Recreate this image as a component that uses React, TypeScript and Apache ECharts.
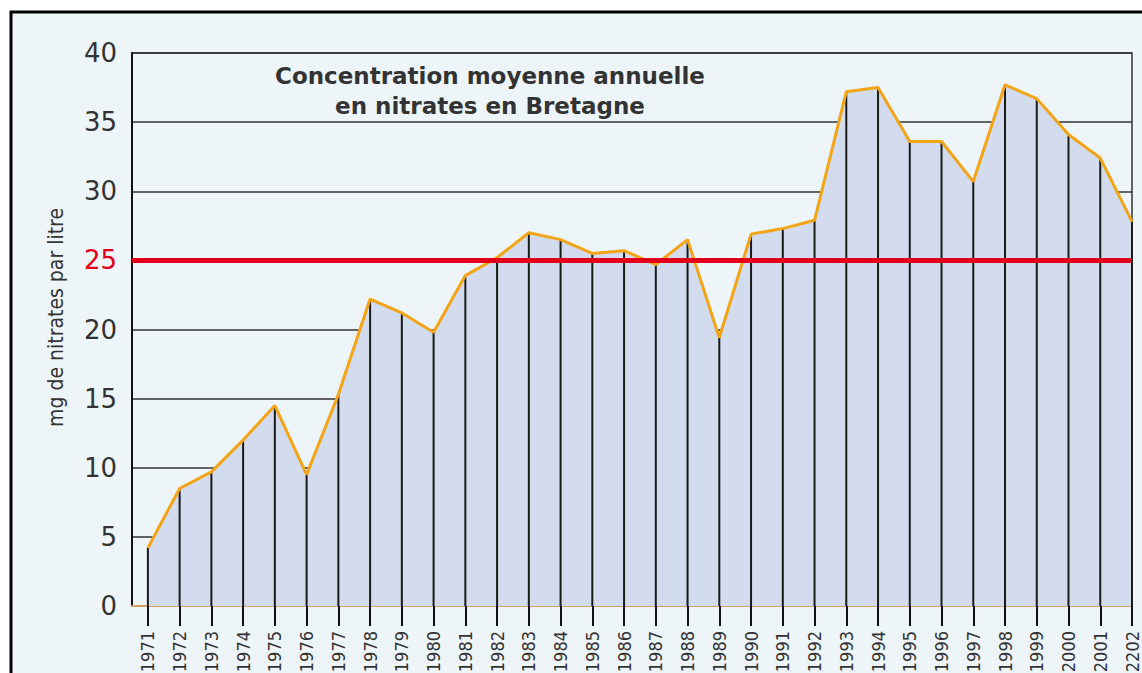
import React, { useEffect, useRef } from "react";
import * as echarts from "echarts";

const years = [1971, 1972, 1973, 1974, 1975, 1976, 1977, 1978, 1979, 1980, 1981, 1982, 1983, 1984, 1985, 1986, 1987, 1988, 1989, 1990, 1991, 1992, 1993, 1994, 1995, 1996, 1997, 1998, 1999, 2000, 2001, 2002];
const yearLabels = ["1971", "1972", "1973", "1974", "1975", "1976", "1977", "1978", "1979", "1980", "1981", "1982", "1983", "1984", "1985", "1986", "1987", "1988", "1989", "1990", "1991", "1992", "1993", "1994", "1995", "1996", "1997", "1998", "1999", "2000", "2001", "2202"];
const nitrates = [4.2, 8.5, 9.7, 12.0, 14.5, 9.5, 15.3, 22.2, 21.2, 19.8, 23.9, 25.2, 27.0, 26.5, 25.5, 25.7, 24.7, 26.5, 19.4, 26.9, 27.3, 27.9, 37.2, 37.5, 33.6, 33.6, 30.7, 37.7, 36.7, 34.1, 32.4, 27.8];
const threshold = 25;
const yTicks = { min: 0, max: 40, interval: 5 };
const titleText = "Concentration moyenne annuelle\nen nitrates en Bretagne";
const yName = "mg de nitrates par litre";

export default function App() {
  const ref = useRef<HTMLDivElement>(null);
  useEffect(() => {
    if (!ref.current) return;
    const chart = echarts.init(ref.current, null, { renderer: "svg" });
    const pts = years.map((y, i) => [y, nitrates[i]]);
    chart.setOption({
      animation: false,
      backgroundColor: "#ffffff",
      graphic: [
        {
          type: "rect",
          z: -10,
          shape: { x: 11, y: 12, width: 1200, height: 700 },
          style: { fill: "#eef5f8", stroke: "#000", lineWidth: 3 },
        },
        {
          type: "text",
          z: 10,
          x: 490,
          y: 61,
          style: {
            text: titleText,
            align: "center",
            font: "bold 23px 'DejaVu Sans', sans-serif",
            lineHeight: 30,
            fill: "#333",
          },
        },
      ],
      grid: {
        left: 132,
        top: 53,
        right: 10,
        bottom: 67,
        show: true,
        outerBoundsMode: "none",
        containLabel: false,
        borderColor: "#333",
        borderWidth: 1.5,
        backgroundColor: "transparent",
      },
      xAxis: {
        type: "value",
        min: 1970.5,
        max: 2002,
        splitLine: { show: false },
        axisLine: { show: true, lineStyle: { color: "#d4a060", width: 2 } },
        axisTick: {
          show: true,
          customValues: years,
          length: 20,
          lineStyle: { color: "#111", width: 2 },
        },
        axisLabel: {
          customValues: years,
          rotate: 90,
          margin: 25,
          fontSize: 18,
          color: "#333",
          fontFamily: "'Liberation Sans Narrow', 'DejaVu Sans Condensed', sans-serif",
          formatter: (v: number) => {
            const i = years.indexOf(Math.round(v));
            return i >= 0 ? yearLabels[i] : "";
          },
        },
      },
      yAxis: {
        type: "value",
        min: yTicks.min,
        max: yTicks.max,
        interval: yTicks.interval,
        name: yName,
        nameLocation: "middle",
        nameRotate: 90,
        nameGap: 66,
        nameTextStyle: {
          fontSize: 21,
          color: "#333",
          padding: [0, 0, 0, 24],
          fontFamily: "'Liberation Sans Narrow', 'DejaVu Sans Condensed', sans-serif",
        },
        axisLine: { show: true, lineStyle: { color: "#111", width: 2 } },
        axisTick: { show: false },
        splitLine: { show: true, lineStyle: { color: "#333", width: 1.5 } },
        axisLabel: {
          margin: 15,
          fontSize: 26,
          fontFamily: "'DejaVu Sans', sans-serif",
          color: (v: any) => (Number(v) === threshold ? "#e2001a" : "#333"),
        },
      },
      series: [
        {
          type: "line",
          z: 1,
          data: pts,
          symbol: "none",
          lineStyle: { width: 0 },
          areaStyle: { color: "#d3dbee", opacity: 1 },
        },
        {
          type: "custom",
          z: 2,
          data: pts,
          encode: { x: 0, y: 1 },
          renderItem: (params: any, api: any) => {
            const x = api.value(0);
            const v = api.value(1);
            const p0 = api.coord([x, 0]);
            const p1 = api.coord([x, v]);
            return {
              type: "line",
              shape: { x1: p0[0], y1: p0[1], x2: p1[0], y2: p1[1] },
              style: { stroke: "#1a1a1a", lineWidth: 2 },
            };
          },
        },
        {
          type: "line",
          z: 3,
          data: pts,
          symbol: "none",
          lineStyle: { color: "#f2a516", width: 3 },
          markLine: {
            silent: true,
            symbol: "none",
            label: { show: false },
            lineStyle: { color: "#e2001a", width: 5, type: "solid" },
            data: [{ yAxis: threshold }],
          },
        },
      ],
    });
    return () => chart.dispose();
  }, []);
  return (
    <div
      ref={ref}
      style={{ position: "fixed", left: 0, top: 0, width: 1142, height: 673 }}
    />
  );
}
